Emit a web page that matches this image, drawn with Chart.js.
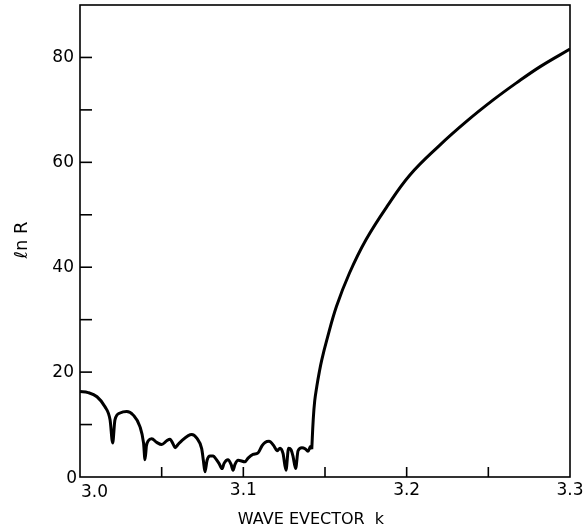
<!DOCTYPE html>
<html>
<head>
<meta charset="utf-8">
<script src="https://cdn.jsdelivr.net/npm/chart.js@4/dist/chart.umd.min.js"></script>
<style>
  html, body { margin: 0; padding: 0; background: #fff; }
  #wrap { width: 587px; height: 531px; }
</style>
</head>
<body>
<div id="wrap"><canvas id="c" width="587" height="531"></canvas></div>
<script>
// Oscillating part: wave vector k and ln R
const waveVectorLow = [
  3.0000, 3.0049, 3.0104, 3.0153, 3.0184, 3.0200, 3.0214, 3.0245, 3.0286, 3.0326,
  3.0367, 3.0389, 3.0398, 3.0407, 3.0418, 3.0439, 3.0470, 3.0500, 3.0531, 3.0551,
  3.0570, 3.0582, 3.0600, 3.0625, 3.0663, 3.0684, 3.0715, 3.0745, 3.0756, 3.0765,
  3.0778, 3.0796, 3.0816, 3.0833, 3.0851, 3.0870, 3.0882, 3.0906, 3.0925, 3.0937,
  3.0949, 3.0968, 3.1010, 3.1029, 3.1059, 3.1090, 3.1115, 3.1133, 3.1157, 3.1188,
  3.1206, 3.1225, 3.1243, 3.1261, 3.1277, 3.1292, 3.1304, 3.1320, 3.1335, 3.1359,
  3.1378, 3.1396, 3.1411, 3.1419
];
const lnRLow = [
  16.3, 16.1, 15.3, 13.4, 10.9, 6.5, 10.9, 12.2, 12.5, 11.8,
  9.6, 6.5, 3.3, 6.0, 6.9, 7.3, 6.6, 6.2, 6.9, 7.2,
  6.3, 5.6, 6.2, 7.0, 7.9, 8.1, 7.4, 5.4, 3.0, 1.0,
  3.2, 4.0, 4.0, 3.4, 2.6, 1.6, 2.6, 3.3, 2.4, 1.3,
  2.4, 3.2, 2.9, 3.6, 4.3, 4.6, 6.0, 6.6, 6.8, 5.9,
  5.0, 5.5, 4.5, 1.3, 5.5, 5.2, 4.0, 1.6, 5.0, 5.6,
  5.4, 4.9, 5.8, 5.3
];
// Rising part past the band edge
const waveVectorHigh = [
  3.1419, 3.1428, 3.1437, 3.1450, 3.1465, 3.1480, 3.1510, 3.1570, 3.1650, 3.1750,
  3.1880, 3.2020, 3.2200, 3.2370, 3.2530, 3.2670, 3.2820, 3.3000
];
const lnRHigh = [
  5.3, 11.0, 14.5, 17.3, 20.0, 22.3, 26.0, 32.5, 38.9, 45.2,
  51.6, 57.6, 63.2, 67.9, 71.9, 75.1, 78.3, 81.6
];

// Axis ticks and labels
const xTickValues = [3.0, 3.05, 3.1, 3.15, 3.2, 3.25, 3.3];
const xTickLabels = ['3.0', '', '3.1', '', '3.2', '', '3.3'];
const yTickValues = [0, 10, 20, 30, 40, 50, 60, 70, 80];
const yTickLabels = ['0', '', '20', '', '40', '', '60', '', '80'];
const xTitle = 'WAVE EVECTOR  k';
const yTitle = 'ℓn R';

const FONT = '"DejaVu Sans", "Liberation Sans", sans-serif';

// Draws the frame, inward ticks, tick labels and axis titles
const framePlugin = {
  id: 'frame',
  afterDraw(chart) {
    const ctx = chart.ctx;
    const a = chart.chartArea;
    const xs = chart.scales.x, ys = chart.scales.y;
    ctx.save();
    ctx.strokeStyle = '#000';
    ctx.lineWidth = 1.6;
    ctx.strokeRect(a.left, a.top, a.right - a.left, a.bottom - a.top);

    // x ticks pointing up into the plot
    xTickValues.forEach((v) => {
      const px = xs.getPixelForValue(v);
      if (px > a.left + 2 && px < a.right - 2) {
        ctx.beginPath();
        ctx.moveTo(px, a.bottom);
        ctx.lineTo(px, a.bottom - 10);
        ctx.stroke();
      }
    });
    // y ticks pointing right into the plot
    yTickValues.forEach((v) => {
      const py = ys.getPixelForValue(v);
      if (py > a.top + 2 && py < a.bottom - 2) {
        ctx.beginPath();
        ctx.moveTo(a.left, py);
        ctx.lineTo(a.left + 12, py);
        ctx.stroke();
      }
    });

    ctx.fillStyle = '#000';
    ctx.font = '17px ' + FONT;
    // x tick labels
    ctx.textBaseline = 'top';
    xTickValues.forEach((v, i) => {
      const lab = xTickLabels[i];
      if (!lab) return;
      const px = xs.getPixelForValue(v);
      if (i === 0) {
        ctx.textAlign = 'left';
        ctx.fillText(lab, px + 1, a.bottom + 7);
      } else {
        ctx.textAlign = 'center';
        ctx.fillText(lab, px, a.bottom + 5);
      }
    });
    // y tick labels
    ctx.textAlign = 'right';
    ctx.textBaseline = 'middle';
    yTickValues.forEach((v, i) => {
      const lab = yTickLabels[i];
      if (!lab) return;
      const py = ys.getPixelForValue(v);
      if (i === 0) {
        ctx.fillText(lab, a.left - 3, py + 2);
      } else {
        ctx.fillText(lab, a.left - 6, py);
      }
    });

    // axis titles
    ctx.textAlign = 'center';
    ctx.textBaseline = 'middle';
    ctx.font = '16px ' + FONT;
    ctx.fillText(xTitle, 311, 520);
    ctx.translate(22, 240);
    ctx.rotate(-Math.PI / 2);
    ctx.font = '18px ' + FONT;
    ctx.fillText(yTitle, 0, 0);
    ctx.restore();
  }
};

const toPoints = (xs, ys) => xs.map((k, i) => ({ x: k, y: ys[i] }));

new Chart(document.getElementById('c'), {
  type: 'line',
  data: {
    datasets: [{
      data: toPoints(waveVectorLow, lnRLow),
      borderColor: '#000',
      borderWidth: 3,
      pointRadius: 0,
      fill: false,
      cubicInterpolationMode: 'monotone'
    }, {
      data: toPoints(waveVectorHigh, lnRHigh),
      borderColor: '#000',
      borderWidth: 3,
      pointRadius: 0,
      fill: false,
      tension: 0.4
    }]
  },
  options: {
    responsive: false,
    animation: false,
    devicePixelRatio: 1,
    layout: { padding: { left: 80, right: 17, top: 5, bottom: 54 } },
    plugins: { legend: { display: false }, tooltip: { enabled: false } },
    scales: {
      x: {
        type: 'linear',
        min: 3.0,
        max: 3.3,
        grid: { display: false, drawTicks: false },
        border: { display: false },
        ticks: { display: false }
      },
      y: {
        type: 'linear',
        min: 0,
        max: 90,
        grid: { display: false, drawTicks: false },
        border: { display: false },
        ticks: { display: false }
      }
    }
  },
  plugins: [framePlugin]
});
</script>
</body>
</html>
